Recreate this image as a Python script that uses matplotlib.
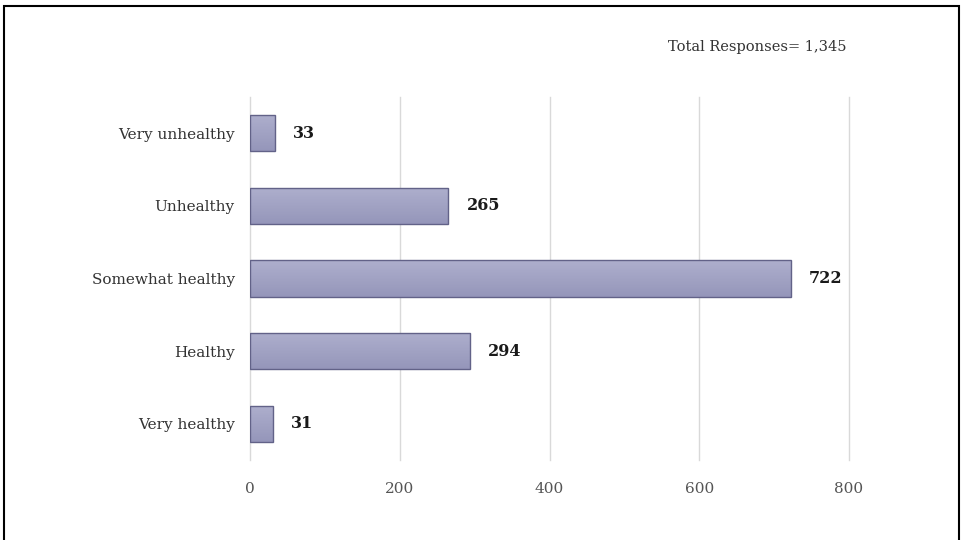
import numpy as np
import matplotlib.pyplot as plt
from matplotlib.colors import LinearSegmentedColormap
from matplotlib.patches import Rectangle

plt.rcParams['font.family'] = ['DejaVu Serif', 'Liberation Serif']

categories = ["Very unhealthy", "Unhealthy", "Somewhat healthy", "Healthy", "Very healthy"]
counts = [33, 265, 722, 294, 31]
xticks = [0, 200, 400, 600, 800]
total_label = "Total Responses= 1,345"

fig = plt.figure(figsize=(9.63, 5.40), dpi=100)
ax = fig.add_axes([250 / 963, 1 - 460 / 540, 599 / 963, 363 / 540])

y = list(range(len(categories)))
bars = ax.barh(y, counts, height=0.5, color="none", edgecolor="#626288", linewidth=1.0, zorder=4)

# soft vertical gradient inside each bar, lighter at top
grad = LinearSegmentedColormap.from_list("bar", ["#aeafcd", "#9596ba"])
g = np.linspace(0, 1, 64).reshape(-1, 1)
for b in bars:
    x0, y0 = b.get_x(), b.get_y()
    w, h = b.get_width(), b.get_height()
    im = ax.imshow(g, cmap=grad, aspect="auto", extent=(x0, x0 + w, y0 + h, y0),
                   zorder=3, interpolation="bilinear")
    im.set_clip_path(b)

for yi, v in zip(y, counts):
    ax.text(v + 24, yi, str(v), va="center", ha="left", fontsize=11.5, fontweight="bold", color="#1a1a1a")

ax.set_xlim(0, 800)
ax.set_ylim(len(categories) - 0.5, -0.5)
ax.set_xticks(xticks)
ax.set_xticklabels([str(t) for t in xticks], fontsize=11, color="#555555")
ax.set_yticks(y)
ax.set_yticklabels(categories, fontsize=11, color="#333333")
ax.tick_params(axis="x", length=0, pad=16)
ax.tick_params(axis="y", length=0, pad=11)
ax.grid(axis="x", color="#d9d9d9", linewidth=1.0, zorder=0)
for line in ax.get_xgridlines():
    line.set_clip_on(False)
for s in ax.spines.values():
    s.set_visible(False)

fig.text(757 / 963, 1 - 47 / 540, total_label, ha="center", va="center", fontsize=10.5, color="#333333")

# outer frame of the picture
fig.patches.append(Rectangle((4 / 963, -0.05), 955 / 963, 1.05 - 6 / 540, transform=fig.transFigure,
                             fill=False, edgecolor="black", linewidth=1.5))

fig.savefig("out.png", dpi=100)
